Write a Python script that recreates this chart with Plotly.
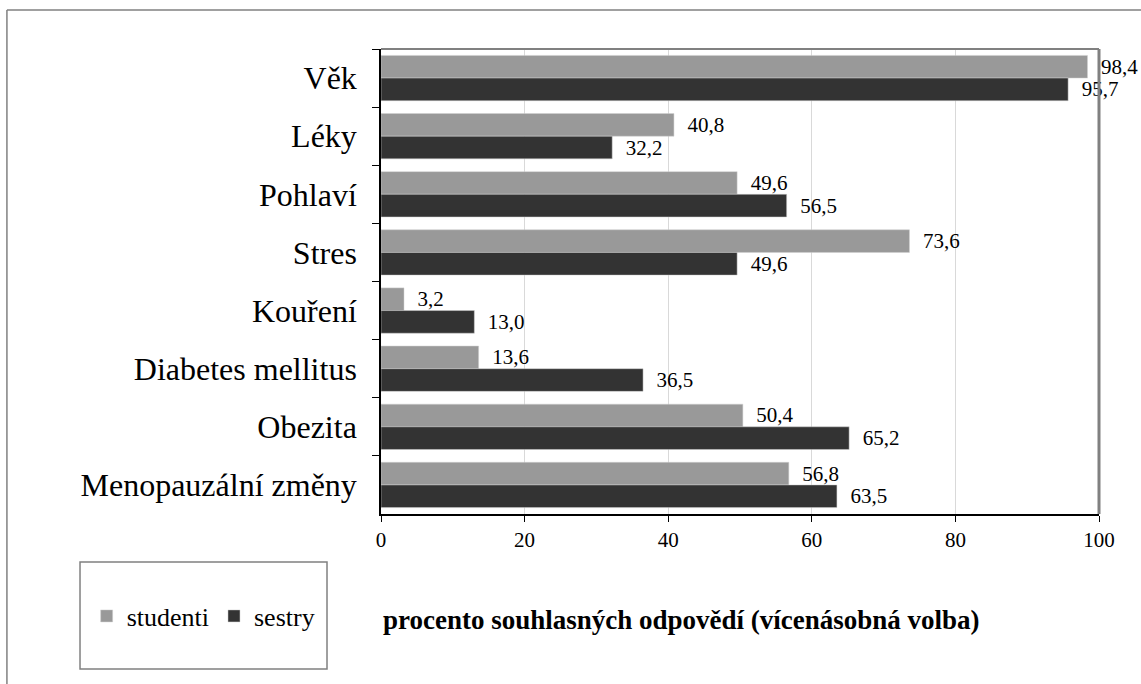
import plotly.graph_objects as go

# Data
categories = ['Věk', 'Léky', 'Pohlaví', 'Stres', 'Kouření', 'Diabetes mellitus', 'Obezita', 'Menopauzální změny']
studenti = [98.4, 40.8, 49.6, 73.6, 3.2, 13.6, 50.4, 56.8]
sestry = [95.7, 32.2, 56.5, 49.6, 13.0, 36.5, 65.2, 63.5]
x_ticks = [0, 20, 40, 60, 80, 100]

FONT = 'Times New Roman'


def fmt(v):
    # decimal comma, little padding from the bar end
    return '\u00a0\u00a0' + f'{v:.1f}'.replace('.', ',')


fig = go.Figure()
for name, vals, color in [('studenti', studenti, '#999999'), ('sestry', sestry, '#333333')]:
    fig.add_trace(go.Bar(
        x=vals,
        y=categories,
        name=name,
        orientation='h',
        marker=dict(color=color, line=dict(color='#d0d0d0', width=0.5)),
        text=[fmt(v) for v in vals],
        textposition='outside',
        textangle=0,
        constraintext='none',
        cliponaxis=False,
        textfont=dict(family=FONT, size=21, color='black'),
    ))

fig.update_layout(
    width=1141,
    height=684,
    barmode='group',
    bargap=0.22,
    bargroupgap=0,
    plot_bgcolor='white',
    paper_bgcolor='white',
    margin=dict(l=381, r=42, t=49, b=170),
    font=dict(family=FONT, color='black'),
    legend=dict(
        orientation='h',
        x=-0.247, y=-0.2194,
        xanchor='center', yanchor='middle',
        font=dict(family=FONT, size=26, color='black'),
        bgcolor='rgba(0,0,0,0)',
    ),
    shapes=[
        # legend frame
        dict(type='rect', xref='paper', yref='paper', x0=-0.4192, x1=-0.0752, y0=-0.3333, y1=-0.1032,
             line=dict(color='#808080', width=1.5)),
        # outer chart frame (top + left)
        dict(type='line', xref='paper', yref='paper', x0=-0.521, x1=1.06, y0=1.0839, y1=1.0839,
             line=dict(color='#808080', width=1.5)),
        dict(type='line', xref='paper', yref='paper', x0=-0.521, x1=-0.521, y0=1.0839, y1=-0.4,
             line=dict(color='#808080', width=1.5)),
        # plot area frame top/right
        dict(type='line', xref='paper', yref='paper', x0=0, x1=1, y0=1, y1=1,
             line=dict(color='#808080', width=2)),
        dict(type='line', xref='paper', yref='paper', x0=1, x1=1, y0=0, y1=1,
             line=dict(color='#808080', width=3)),
    ],
    annotations=[
        dict(text='<b>procento souhlasných odpovědí (vícenásobná volba)</b>',
             xref='paper', yref='paper', x=0.418, y=-0.228, showarrow=False,
             xanchor='center', yanchor='middle',
             font=dict(family=FONT, size=27, color='black')),
    ],
)

fig.update_xaxes(
    range=[0, 100],
    tickvals=x_ticks,
    ticks='outside',
    ticklen=6,
    tickcolor='black',
    showgrid=True,
    gridcolor='#d9d9d9',
    gridwidth=1,
    zeroline=False,
    showline=True,
    linecolor='black',
    linewidth=1.5,
    tickfont=dict(family=FONT, size=21, color='black'),
)
fig.update_yaxes(
    autorange='reversed',
    ticks='outside',
    tickson='boundaries',
    ticklen=7,
    tickcolor='black',
    ticklabelstandoff=16,
    showline=True,
    linecolor='black',
    linewidth=1.5,
    showgrid=False,
    tickfont=dict(family=FONT, size=32, color='black'),
)

fig.write_html('out.html', config={'displayModeBar': False},
               post_script="document.body.style.margin='0';")
